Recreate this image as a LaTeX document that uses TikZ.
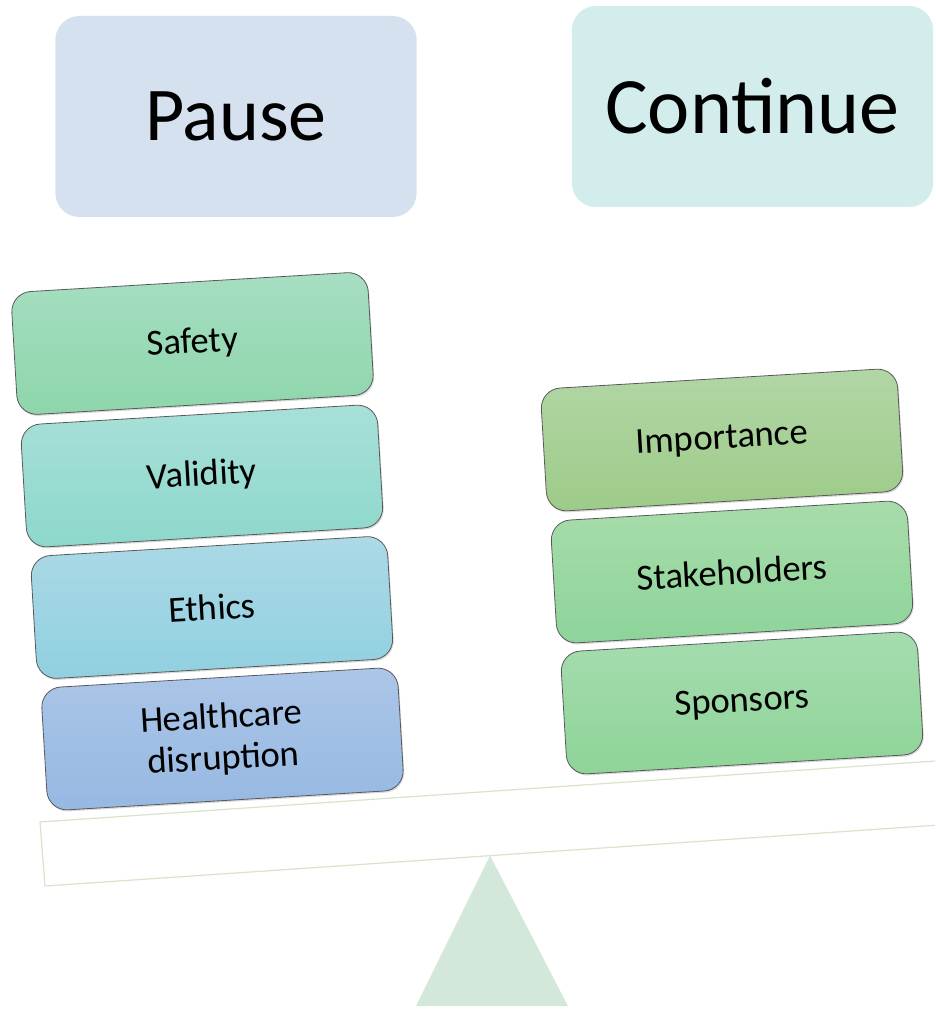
\documentclass[tikz,border=0pt]{standalone}
\usepackage{fontspec}
\setmainfont{Carlito}
\usetikzlibrary{shadows}
\definecolor{pausefill}{HTML}{D5E1EF}
\definecolor{contfill}{HTML}{D3ECEC}
\definecolor{safetyT}{HTML}{A6DEC2}\definecolor{safetyB}{HTML}{8ED6AB}
\definecolor{validT}{HTML}{A8E0D8}\definecolor{validB}{HTML}{8DD8CB}
\definecolor{ethicsT}{HTML}{ACD9E6}\definecolor{ethicsB}{HTML}{90D0E0}
\definecolor{healthT}{HTML}{ABC6E8}\definecolor{healthB}{HTML}{96B8E2}
\definecolor{impT}{HTML}{B2D6A6}\definecolor{impB}{HTML}{9DCB88}
\definecolor{stakeT}{HTML}{A8DCAA}\definecolor{stakeB}{HTML}{8DD49A}
\definecolor{sponT}{HTML}{A6DCB0}\definecolor{sponB}{HTML}{8ED497}
\definecolor{beamline}{HTML}{D7E4CB}
\definecolor{fulcrum}{HTML}{D3E8DA}
\begin{document}
\begin{tikzpicture}[x=0.75pt,y=-0.75pt,
  card/.style={draw=black!65, line width=0.6pt, rounded corners=15pt,
    minimum width=267.75pt, minimum height=92.25pt, rotate=3.4,
    font=\fontsize{27.5}{31}\selectfont, align=center, inner sep=0pt,
    drop shadow={shadow xshift=0.8pt, shadow yshift=-1.2pt, opacity=0.3}},
  head/.style={rounded corners=18pt, inner sep=0pt,
    minimum width=271pt, minimum height=150.75pt}]
\useasboundingbox (0,0) rectangle (935,1012);
\clip (0,0) rectangle (935,1012);

% headers
\node[head, fill=pausefill, font=\fontsize{57}{64}\selectfont] (pause) at (236,116.5) {Pause};
\node[head, fill=contfill, font=\fontsize{60}{68}\selectfont] (continue) at (752.5,106.5) {Continue};

% beam and fulcrum
\draw[beamline, line width=0.9pt] (40,822) -- (960,759.3) -- (960,823.6) -- (45,886) -- cycle;
\fill[fulcrum] (490,855.5) -- (568,1006) -- (416,1006) -- cycle;

% left stack
\node[card, top color=safetyT, bottom color=safetyB] (safety) at (192.5,343.5) {Safety};
\node[card, top color=validT, bottom color=validB] (validity) at (202,476) {Validity};
\node[card, top color=ethicsT, bottom color=ethicsB] (ethics) at (212,607.5) {Ethics};
\node[card, top color=healthT, bottom color=healthB] (health) at (222.5,739) {Healthcare\\disruption};

% right stack
\node[card, top color=impT, bottom color=impB] (importance) at (722,440) {Importance};
\node[card, top color=stakeT, bottom color=stakeB] (stake) at (732,572) {Stakeholders};
\node[card, top color=sponT, bottom color=sponB] (sponsors) at (742,703) {Sponsors};
\end{tikzpicture}
\end{document}
